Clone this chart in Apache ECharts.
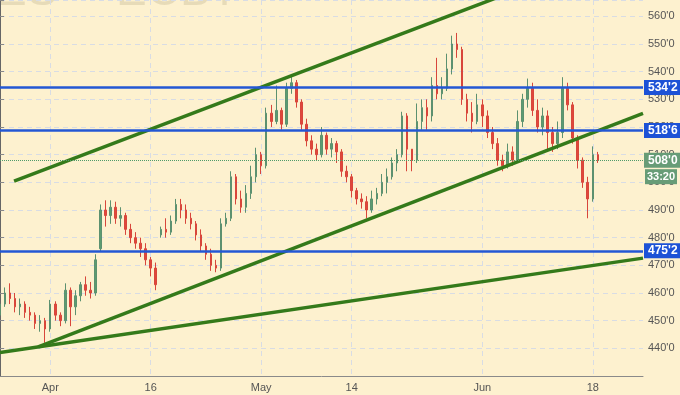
<!DOCTYPE html>
<html>
<head>
<meta charset="utf-8">
<script src="https://cdn.jsdelivr.net/npm/echarts@6/dist/echarts.min.js"></script>
<style>
html,body{margin:0;padding:0;background:#fdf1cf;}
#c{width:680px;height:395px;}
</style>
</head>
<body>
<div id="c"></div>
<script>
// Half-day price slots, [open, close, low, high]
var candles = [
[452,456,447,458],[456,460,455,462],[460,458,456,463.5],[458,455,453,460],[455,456,452,458],
[456,453,451,457],[453,452,450,455],[452,449,447,453],[449,450,446,452],[450,447,442,451],
[447,456,446,457.5],[456,452,450,457],[452,450,448,453],[450,461,449,463.5],[461,455,448,462],
[455,459,452,461],[459,463,457,464],[463,461,459,466],[461,460,458,464],[460,472,459,474],
[476,490,475,492],[490,488,484,493.5],[488,491,485,493.5],[491,487,485,493],[487,488,484,491],
[488,483,481,489],[483,480,478,485],[480,478,476,482],[478,476,473,480],[476,472,470,478],
[472,469,466,473],[469,463,461,471],[481,483,480,484],[483,482,480,487],[482,486,481,488],
[486,492,485,494],[492,490,487,494],[490,487,485,492],[487,485,483,489],[485,481,479,486],
[481,477,475,483],[477,474,472,478],[474,470,468,476],[470,469,467.5,472],[469,485,468,487],
[485,487,484,489],[487,502,486,504],[502,494,492,503],[494,491,489,497],[491,496,489,499],
[496,502,494,506],[502,510,500,512.5],[510,506,503,511],[506,525,505,527],[525,522,520,528],
[522,526,521,535],[526,521,519,527],[521,534,520,536],[534,536,532,539],[536,529,527,537],
[529,521,519,530],[521,515,513,523],[515,512,510,517],[512,510,508,514],[510,517,509,520],
[517,512,510,518],[512,514,509,516],[514,511,507,515],[511,504,502,512],[504,502,500,506],
[502,497,494.5,503],[497,494,492,498],[494,493,490.5,496],[493,490,487,495],[490,494,489,497],
[494,496,492,498],[496,500,495,503],[500,502,496,505],[502,507,501,509],[507,510,504,512],
[510,524,509,525.5],[524,512,504,525],[512,508,504,512],[508,522,507,528.5],[522,527,519,530],
[527,524,519,530],[524,535,522,538],[535,532,530,545],[532,534,530,538],[534,541,533,546.5],
[541,550,539,553],[550,548,545,554],[548,530,528,549],[530,525,522,532],[525,522,518,529],
[522,528,521,532],[528,524,520,530],[524,518,516,526],[518,514,512,520],[514,508,506,516],
[508,506,504,510],[506,511,505,514],[511,508,506,513],[508,522,507,526],[522,530,520,532],
[530,534,527,537.5],[534,526,524,536],[526,520,518,530],[520,524,517,527],[524,518,512,526],
[518,514,511,520],[514,518,512,522],[518,534,516,538],[534,528,526,536],[528,516,514,529],
[516,508,505,517],[508,500,498,509],[500,494,487,502],[494,510,493,513],[510,508,507,511]
];
var slotCount = 129;
var tickSlots = [10, 30, 52, 70, 96, 118];
var tickNames = ['Apr', '16', 'May', '14', 'Jun', '18'];
// horizontal levels
var levels = [534.25, 518.75, 475.25];
var levelLabels = ["534'2", "518'6", "475'2"];
var lastPrice = 508;
var lastLabel = "508'0";
var timerLabel = "33:20";
// trend lines: [slot, price] endpoints
var trendUpper = [[2.8, 500.4], [110, 574.4]];
var trendLower = [[7.6, 440.5], [128, 524.9]];
var trendSupport = [[0, 438.5], [128, 472.6]];

var categories = [];
for (var i = 0; i < slotCount; i++) {
  var k = tickSlots.indexOf(i);
  categories.push(k >= 0 ? tickNames[k] : '');
}
function isTick(i) { return tickSlots.indexOf(i) >= 0; }

var FONT = 'Liberation Sans, Arial, sans-serif';
var GREEN = '#347a1a';
var BLUE = '#2357d4';

var levelData = levels.map(function (v, i) {
  return {
    yAxis: v,
    lineStyle: { color: BLUE, width: 2.5, type: 'solid' },
    label: {
      show: true, position: 'end', distance: 1,
      formatter: levelLabels[i],
      backgroundColor: '#1d52d6', color: '#fff',
      fontFamily: FONT, fontSize: 12, fontWeight: 'bold',
      padding: [2, 4, 1, 4]
    }
  };
});
levelData.push({
  yAxis: lastPrice,
  lineStyle: { color: '#4f9a6a', width: 1, type: 'dotted' },
  label: {
    show: true, position: 'end', distance: 1,
    formatter: lastLabel,
    backgroundColor: '#679c77', color: '#fff',
    fontFamily: FONT, fontSize: 12, fontWeight: 'bold',
    padding: [2, 4, 1, 4]
  }
});

function trend(d) {
  return {
    type: 'line', xAxisIndex: 1, yAxisIndex: 0, data: d,
    symbol: 'none', silent: true, z: 4, clip: true,
    lineStyle: { color: GREEN, width: 3.5 }
  };
}

var watermark = [
  { type: 'text', left: -4, top: -31, z: 0, silent: true, style: { text: 'ES', fontSize: 46, fontFamily: FONT, fill: 'rgba(120,105,70,0.16)' } },
  { type: 'text', left: 116, top: -31, z: 0, silent: true, style: { text: 'ECBT', fontSize: 46, fontFamily: FONT, fill: 'rgba(120,105,70,0.16)' } }
];

var chart = echarts.init(document.getElementById('c'), null, { renderer: 'canvas' });
chart.setOption({
  animation: false,
  backgroundColor: '#fdf1cf',
  grid: { left: 0, right: 37, top: 0, bottom: 19, containLabel: false },
  xAxis: [{
    type: 'category', data: categories, boundaryGap: false,
    axisLine: { lineStyle: { color: '#8a8a8a' } },
    axisTick: { show: false },
    axisLabel: { interval: function (i) { return isTick(i); }, color: '#555', fontFamily: FONT, fontSize: 11, margin: 6 },
    splitLine: { show: true, interval: function (i) { return isTick(i); }, lineStyle: { color: '#d8dce4', type: [5, 4] } }
  }, {
    type: 'value', min: 0, max: slotCount - 1, show: false
  }],
  yAxis: [{
    type: 'value', position: 'right', min: 430, max: 565.9, interval: 10,
    axisLine: { show: true, lineStyle: { color: '#666' } },
    axisTick: { show: true, length: 4, lineStyle: { color: '#888' } },
    axisLabel: {
      color: '#555', fontFamily: FONT, fontSize: 11, margin: 5,
      formatter: function (v) { return (v < 435 || v > 561) ? '' : (v + "'0"); }
    },
    splitLine: { show: true, lineStyle: { color: '#d8dce4', type: [5, 4] } }
  }],
  series: [{
    type: 'candlestick', xAxisIndex: 0, yAxisIndex: 0, data: candles,
    barMaxWidth: 2,
    itemStyle: { color: '#5c9c70', color0: '#e0473b', borderColor: '#5c9170', borderColor0: '#d8463b', borderWidth: 1 },
    markLine: { silent: true, symbol: 'none', data: levelData, z: 5 }
  }, trend(trendUpper), trend(trendLower), trend(trendSupport)],
  graphic: watermark
});

var py = chart.convertToPixel({ yAxisIndex: 0 }, lastPrice);
chart.setOption({
  graphic: watermark.concat([
    {
      type: 'rect', z: 100, x: 645, y: py + 9, shape: { width: 32, height: 15 },
      style: { fill: '#679c77' }
    },
    {
      type: 'text', z: 101, x: 661, y: py + 16.5,
      style: { text: timerLabel, fill: '#fff', fontFamily: FONT, fontSize: 11, fontWeight: 'bold', align: 'center', verticalAlign: 'middle' }
    }
  ])
});
</script>
</body>
</html>
